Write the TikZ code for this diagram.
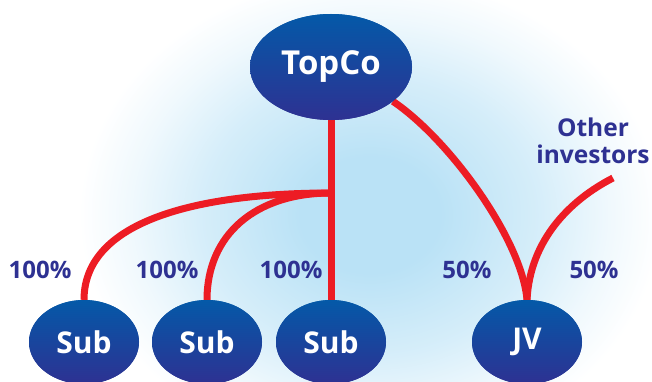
\documentclass[tikz,border=0pt]{standalone}
\usepackage{fontspec}
\setmainfont{Open Sans}
\usetikzlibrary{shapes.geometric}

\definecolor{inkblue}{HTML}{2E3192}
\definecolor{capblue}{HTML}{0459A8}
\definecolor{linkred}{HTML}{ED1C24}
\definecolor{glow}{HTML}{BAE2F6}
\colorlet{glowmid}{glow!60!white}
\colorlet{glowlow}{glow!22!white}

% soft light-blue halo behind the chart (radius 50bp = fully white)
\pgfdeclareradialshading{halo}{\pgfpoint{0bp}{0bp}}{%
  color(0bp)=(glow); color(12bp)=(glow); color(29bp)=(glowmid);
  color(41bp)=(glowlow); color(50bp)=(white); color(72bp)=(white)}

\tikzset{
  entity/.style={ellipse, inner sep=0pt, top color=capblue, bottom color=inkblue,
    text=white, font=\bfseries},
  bigentity/.style={entity, minimum width=162pt, minimum height=106pt,
    font=\fontsize{33}{36}\selectfont\bfseries},
  smallentity/.style={entity, minimum width=110pt, minimum height=84pt,
    font=\fontsize{30}{33}\selectfont\bfseries},
  share/.style={text=inkblue, font=\fontsize{24}{26}\selectfont\bfseries},
  owner/.style={text=inkblue, align=center,
    font=\fontsize{24.5}{27}\selectfont\bfseries},
  link/.style={draw=linkred, line width=7pt}
}

\begin{document}
\begin{tikzpicture}[x=1pt, y=1pt]
  \useasboundingbox (0,0) rectangle (652,381);
  \fill[white] (0,0) rectangle (652,381);
  \begin{scope}
    \clip (0,0) rectangle (652,381);
    \pgftransformshift{\pgfpoint{370pt}{166pt}}%
    \pgftransformxscale{5.8}%
    \pgftransformyscale{4.8}%
    \pgflowlevelsynccm
    \pgfuseshading{halo}%
  \end{scope}

  % entities
  \node[bigentity]   (top)  at (331,314) {TopCo};
  \node[smallentity] (sub1) at (84,39)   {Sub};
  \node[smallentity] (sub2) at (207,39)  {Sub};
  \node[smallentity] (sub3) at (331,39)  {Sub};
  \node[smallentity] (jv)   at (527,39)  {JV};

  \coordinate (fork) at (331,188);
  \coordinate (oi)   at (613,203);
  \node[owner] (others) at (593,240) {Other\\investors};

  % ownership links
  \path[link] (top.south) -- (sub3.north);
  \path[link] (fork) .. controls (200,188) and (84,161) .. (sub1.north);
  \path[link] (fork) .. controls (255,188) and (207,146) .. (sub2.north);
  \path[link] (top.-29) .. controls (450,241) and (522,141) .. (jv.north);
  \path[link] (oi) .. controls (570,181) and (530,141) .. (jv.north);

  % entities again, on top of the link ends
  \node[bigentity]   at (top)  {TopCo};
  \node[smallentity] at (sub1) {Sub};
  \node[smallentity] at (sub2) {Sub};
  \node[smallentity] at (sub3) {Sub};
  \node[smallentity] at (jv)   {JV};

  % shareholdings
  \node[share] (p1) at (40,111)  {100\%};
  \node[share] (p2) at (167,111) {100\%};
  \node[share] (p3) at (291,111) {100\%};
  \node[share] (p4) at (467,111) {50\%};
  \node[share] (p5) at (594,111) {50\%};
\end{tikzpicture}
\end{document}
